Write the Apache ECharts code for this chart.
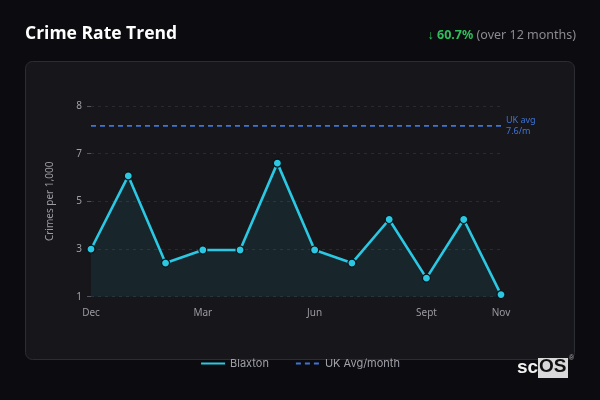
<!DOCTYPE html>
<html>
<head>
<meta charset="utf-8">
<script src="https://cdn.jsdelivr.net/npm/echarts@6/dist/echarts.min.js"></script>
<style>
html,body{margin:0;padding:0;background:#0c0c10;}
#c{width:600px;height:400px;}
</style>
</head>
<body>
<div id="c"></div>
<script>
var months = ["Dec","Jan","Feb","Mar","Apr","May","Jun","Jul","Aug","Sept","Oct","Nov"];
var blaxton = [2.87, 5.68, 2.34, 2.84, 2.84, 6.17, 2.84, 2.34, 4.01, 1.76, 4.01, 1.13];
var ukAvg = [7.6, 7.6, 7.6, 7.6, 7.6, 7.6, 7.6, 7.6, 7.6, 7.6, 7.6, 7.6];
var shownMonthIdx = [0, 3, 6, 9, 11];
var yMin = 1.05, yMax = 8.36;

var chart = echarts.init(document.getElementById('c'));
var font = '"Noto Sans", "Open Sans", sans-serif';
chart.setOption({
  backgroundColor: '#0c0c10',
  textStyle: {fontFamily: font},
  graphic: [
    {type:'rect', shape:{x:25.5, y:61.5, width:549, height:298, r:7}, style:{fill:'#16161b', stroke:'#2c2c33', lineWidth:1}, z:-10},
    {type:'text', left:25, top:25, style:{text:'Crime Rate Trend', fill:'#ffffff', font:'bold 17.5px "Open Sans", "Noto Sans", sans-serif'}},
    {type:'text', right:24, top:29, style:{
      text:'{a|↓ 60.7%} {b|(over 12 months)}',
      rich:{
        a:{fill:'#2fbf5a', fontWeight:'bold', fontSize:12.5, fontFamily:font},
        b:{fill:'#8a8a90', fontSize:12.5, fontFamily:font}
      }
    }},
    {type:'text', left:517, top:358, style:{text:'sc', fill:'#f2f2f2', font:'bold 19px "Liberation Sans", sans-serif'}},
    {type:'rect', shape:{x:538, y:358, width:30, height:20}, style:{fill:'#d9d9d9'}},
    {type:'text', left:539, top:357, style:{text:'OS', fill:'#111', font:'bold 19px "Liberation Sans", sans-serif'}},
    {type:'text', left:569, top:355, style:{text:'®', fill:'#aaa', font:'7px sans-serif'}}
  ],
  legend: {
    bottom: 26,
    left: 'center',
    itemWidth: 24,
    itemHeight: 10,
    itemGap: 26,
    textStyle: {color:'#a0a0a8', fontSize:11, fontFamily:'Inter, "Noto Sans", sans-serif'},
    data: [
      {name:'Blaxton', itemStyle:{opacity:0}},
      {name:'UK Avg/month', itemStyle:{opacity:0}}
    ]
  },
  grid: {left:91, right:99, top:106, bottom:103.3},
  xAxis: {
    type:'category',
    data: months,
    boundaryGap: false,
    axisLine:{show:false},
    axisTick:{show:false},
    axisLabel:{
      color:'#9a9aa0', fontSize:10, margin:11,
      interval: function(i){ return shownMonthIdx.indexOf(i) >= 0; }
    },
    splitLine:{show:false}
  },
  yAxis: {
    type:'value',
    min: yMin, max: yMax, interval: (yMax - yMin) / 4,
    name: 'Crimes per 1,000',
    nameLocation: 'middle',
    nameGap: 36,
    nameTextStyle: {color:'#9a9aa0', fontSize:10},
    axisLine:{show:false},
    axisTick:{show:true, length:4, lineStyle:{color:'#55555c'}},
    axisLabel:{color:'#a0a0a8', fontSize:10, margin:9, formatter:function(v){return Math.round(v);}},
    splitLine:{show:true, lineStyle:{color:'#2a2a30', type:[3,4]}}
  },
  series: [
    {
      name:'Blaxton',
      type:'line',
      data: blaxton,
      symbol:'circle',
      symbolSize:8,
      showAllSymbol:true,
      itemStyle:{color:'#2ac8e2', borderColor:'#0e1014', borderWidth:1.2},
      lineStyle:{color:'#2ac8e2', width:2.6},
      areaStyle:{color:'rgba(42,200,226,0.12)', origin:'start'},
      z:3
    },
    {
      name:'UK Avg/month',
      type:'line',
      data: ukAvg,
      symbol:'none',
      itemStyle:{color:'#3f74d6'},
      lineStyle:{color:'#3f74d6', width:1.6, type:[5,4]},
      endLabel:{show:true, formatter:'UK avg\n7.6/m', color:'#3f74d6', fontSize:9, lineHeight:11, distance:5},
      z:2
    }
  ]
});
</script>
</body>
</html>
